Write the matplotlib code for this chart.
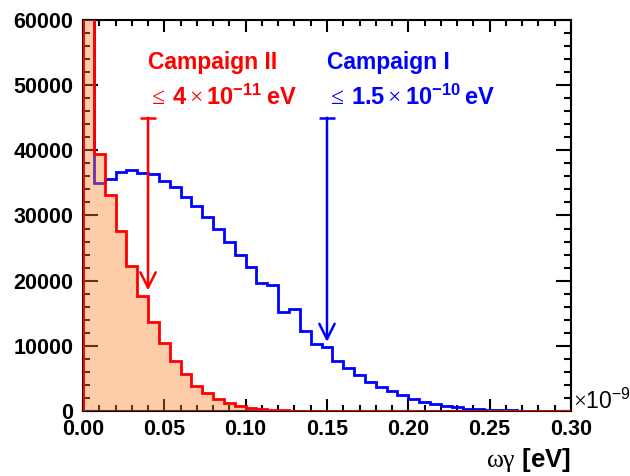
import numpy as np
import matplotlib.pyplot as plt
from matplotlib.ticker import MultipleLocator

plt.rcParams['font.family'] = ['Liberation Sans', 'DejaVu Sans']
plt.rcParams['mathtext.fontset'] = 'custom'
plt.rcParams['mathtext.rm'] = 'Liberation Serif'
plt.rcParams['mathtext.bf'] = 'Liberation Sans:bold'
plt.rcParams['mathtext.sf'] = 'Liberation Sans'
plt.rcParams['mathtext.it'] = 'Liberation Sans:italic'

# 45 bins between 0 and 0.3 (x 1e-9 eV)
n_bins = 45
x_max = 0.30

campaign2 = [80000, 39500, 33200, 27600, 22200, 17700, 13600, 10500, 7700, 5700,
             3850, 2700, 1800, 1200, 780, 420, 260, 160, 100, 60,
             40, 25, 15, 10, 5, 3, 2, 1, 0, 0,
             0, 0, 0, 0, 0, 0, 0, 0, 0, 0,
             0, 0, 0, 0, 0]
campaign1 = [62000, 35000, 35600, 36700, 37000, 36500, 36350, 35300, 34300, 32800,
             31400, 29800, 28000, 26000, 23900, 22100, 19700, 19300, 15200, 15600,
             12200, 10300, 9750, 7700, 6650, 5500, 4500, 3750, 3050, 2400,
             1880, 1450, 1100, 800, 550, 380, 260, 180, 120, 80,
             50, 30, 20, 10, 5]

# upper limits (x 1e-9 eV) and arrow extents
limits = [0.04, 0.15]
arrow_top = 45000
arrow_tip = [18500, 10600]
label_titles = ['Campaign II', 'Campaign I']
label_limits = [r'$\leq\,\mathbf{4}\times\mathbf{10^{-11}}\:\mathbf{eV}$',
                r'$\leq\,\mathbf{1.5}\times\mathbf{10^{-10}}\:\mathbf{eV}$']
colors = ['#ff0000', '#0000ff']

edges = np.linspace(0, x_max, n_bins + 1)

fig = plt.figure(figsize=(6.3, 4.76), dpi=100)
ax = fig.add_axes([0.1317, 0.1366, 0.7746, 0.8214])

ax.stairs(campaign1, edges, color=colors[1], lw=2.0, zorder=2)
ax.stairs(campaign2, edges, fill=True, color='#ff802a', alpha=0.4, lw=0, zorder=3)
ax.stairs(campaign2, edges, color=colors[0], lw=2.0, zorder=4)

for i in range(2):
	ax.annotate('', xy=(limits[i], arrow_tip[i]), xytext=(limits[i], arrow_top),
				arrowprops=dict(arrowstyle='->,head_length=1.1,head_width=0.55',
								color=colors[i], lw=1.8, shrinkA=0, shrinkB=0),
				zorder=5)
	ax.plot([limits[i]], [arrow_top], marker='_', markersize=11.5,
			markeredgewidth=1.8, color=colors[i], zorder=5)
	ax.text(limits[i], 53550, label_titles[i], color=colors[i], fontsize=16.5,
			fontweight='bold', ha='left', va='center')
	ax.text(limits[i], 48200, label_limits[i], color=colors[i], fontsize=17,
			ha='left', va='center')

ax.set_xlim(0, x_max)
ax.set_ylim(0, 60000)
ax.xaxis.set_major_locator(MultipleLocator(0.05))
ax.xaxis.set_minor_locator(MultipleLocator(0.01))
ax.yaxis.set_major_locator(MultipleLocator(10000))
ax.yaxis.set_minor_locator(MultipleLocator(2000))
ax.xaxis.set_major_formatter(lambda v, p: '%.2f' % v)
ax.yaxis.set_major_formatter(lambda v, p: '%d' % v)

ax.tick_params(axis='both', which='both', direction='in', top=True, right=True, width=1.5)
ax.tick_params(axis='x', which='major', length=8.4, pad=6)
ax.tick_params(axis='x', which='minor', length=4.2)
ax.tick_params(axis='y', which='major', length=10.5, pad=7)
ax.tick_params(axis='y', which='minor', length=5.3)
for lab in ax.get_xticklabels() + ax.get_yticklabels():
	lab.set_fontsize(15.5)
	lab.set_fontweight('bold')
for s in ax.spines.values():
	s.set_linewidth(1.5)

ax.text(1.004, -0.008, r'$\times\mathsf{10^{-9}}$', transform=ax.transAxes,
		fontsize=16.5, ha='left', va='bottom')
fig.text(0.9063, 0.034, r'$\mathrm{\omega\gamma}$ [eV]', fontsize=18.5,
		 fontweight='bold', ha='right', va='center')

fig.savefig('out.png', dpi=100)
